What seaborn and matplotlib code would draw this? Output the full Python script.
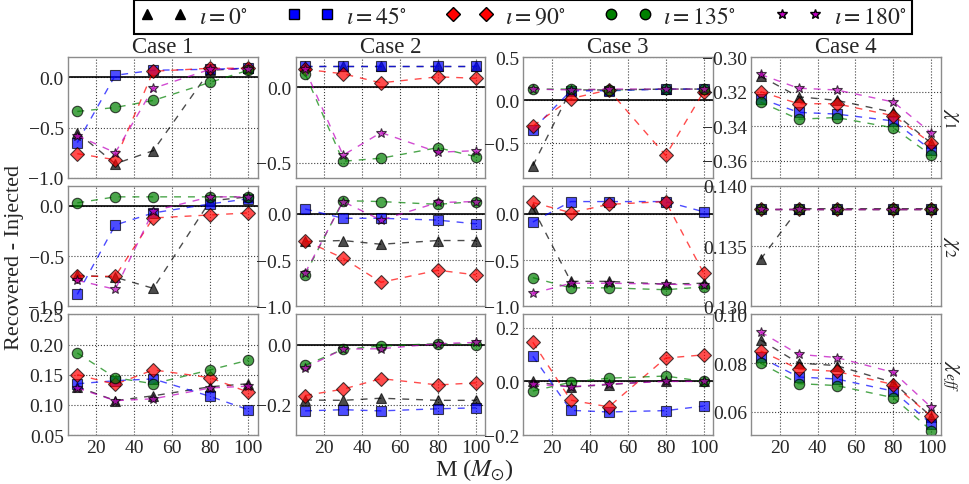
import pandas as pd
import matplotlib.pyplot as plt
import seaborn as sns
from matplotlib.lines import Line2D

# Total mass values (solar masses) and inclination angles
masses = [10, 30, 50, 80, 100]
inclinations = [0, 45, 90, 135, 180]
colors = ['k', 'b', 'r', 'g', 'm']
marker_list = ['^', 's', 'D', 'o', '*']
cases = ['Case 1', 'Case 2', 'Case 3', 'Case 4']
row_labels = [r'$\chi_1$', r'$\chi_2$', r'$\chi_{eff}$']

# Recovered - injected, one row per inclination (0, 45, 90, 135, 180)
chi1_case1 = [[-0.55, -0.86, -0.73, 0.07, 0.09],
              [-0.65, 0.02, 0.07, 0.08, 0.09],
              [-0.76, -0.82, 0.06, 0.09, 0.09],
              [-0.34, -0.30, -0.23, -0.05, 0.07],
              [-0.58, -0.75, -0.11, 0.08, 0.08]]
chi1_case2 = [[0.14, 0.14, 0.14, 0.14, 0.14],
              [0.14, 0.14, 0.14, 0.14, 0.14],
              [0.12, 0.09, 0.03, 0.07, 0.06],
              [0.09, -0.49, -0.47, -0.40, -0.46],
              [0.12, -0.45, -0.30, -0.43, -0.42]]
chi1_case3 = [[-0.76, 0.12, 0.12, 0.13, 0.13],
              [-0.34, 0.11, 0.11, 0.13, 0.13],
              [-0.30, 0.02, 0.12, -0.64, 0.10],
              [0.13, 0.13, 0.12, 0.13, 0.13],
              [0.13, 0.12, 0.13, 0.13, 0.13]]
chi1_case4 = [[-0.311, -0.323, -0.325, -0.332, -0.350],
              [-0.324, -0.332, -0.333, -0.337, -0.354],
              [-0.320, -0.327, -0.327, -0.334, -0.350],
              [-0.326, -0.336, -0.335, -0.341, -0.357],
              [-0.310, -0.318, -0.319, -0.326, -0.344]]

chi2_case1 = [[-0.69, -0.71, -0.82, 0.05, 0.09],
              [-0.88, -0.19, -0.07, 0.02, 0.07],
              [-0.70, -0.70, -0.12, -0.09, -0.07],
              [0.03, 0.09, 0.09, 0.09, 0.09],
              [-0.74, -0.83, -0.05, 0.09, 0.09]]
chi2_case2 = [[-0.30, -0.29, -0.33, -0.29, -0.29],
              [0.05, -0.05, -0.05, -0.07, -0.11],
              [-0.29, -0.48, -0.74, -0.61, -0.66],
              [-0.66, 0.14, 0.13, 0.10, 0.13],
              [-0.64, 0.13, -0.07, 0.12, 0.13]]
chi2_case3 = [[0.06, -0.73, -0.73, -0.76, -0.75],
              [-0.09, 0.13, 0.13, 0.13, 0.02],
              [0.12, 0.01, 0.10, 0.13, -0.64],
              [-0.69, -0.80, -0.80, -0.82, -0.79],
              [-0.86, -0.75, -0.75, -0.76, -0.77]]
chi2_case4 = [[0.1339, 0.1381, 0.1381, 0.1381, 0.1381],
              [0.1381, 0.1381, 0.1381, 0.1381, 0.1381],
              [0.1381, 0.1381, 0.1381, 0.1381, 0.1381],
              [0.1381, 0.1381, 0.1381, 0.1381, 0.1381],
              [0.1381, 0.1381, 0.1381, 0.1381, 0.1381]]

chieff_case1 = [[0.130, 0.107, 0.115, 0.130, 0.135],
                [0.135, 0.140, 0.143, 0.114, 0.092],
                [0.150, 0.134, 0.158, 0.145, 0.121],
                [0.186, 0.145, 0.135, 0.158, 0.174],
                [0.128, 0.107, 0.110, 0.128, 0.131]]
chieff_case2 = [[-0.184, -0.185, -0.178, -0.185, -0.185],
                [-0.220, -0.216, -0.220, -0.213, -0.210],
                [-0.169, -0.148, -0.113, -0.134, -0.127],
                [-0.069, -0.016, -0.005, 0.003, 0.0],
                [-0.077, -0.015, -0.014, 0.003, 0.007]]
chieff_case3 = [[0.0, -0.021, -0.012, 0.003, 0.0],
                [0.094, -0.108, -0.114, -0.109, -0.092],
                [0.146, -0.070, -0.095, 0.087, 0.099],
                [-0.036, -0.003, 0.012, 0.020, 0.0],
                [-0.010, -0.020, -0.010, 0.0, 0.0]]
chieff_case4 = [[0.0895, 0.0800, 0.0790, 0.0720, 0.0580],
                [0.0824, 0.0743, 0.0735, 0.0685, 0.0550],
                [0.0850, 0.0776, 0.0766, 0.0712, 0.0581],
                [0.0800, 0.0716, 0.0708, 0.0658, 0.0523],
                [0.0928, 0.0836, 0.0823, 0.0762, 0.0618]]

panels = [[chi1_case1, chi1_case2, chi1_case3, chi1_case4],
          [chi2_case1, chi2_case2, chi2_case3, chi2_case4],
          [chieff_case1, chieff_case2, chieff_case3, chieff_case4]]

# axis limits and ticks per panel
ylims = [[(-1.0, 0.2), (-0.6, 0.2), (-0.9, 0.5), (-0.37, -0.30)],
         [(-1.0, 0.2), (-1.0, 0.3), (-1.0, 0.3), (0.130, 0.140)],
         [(0.05, 0.25), (-0.3, 0.1), (-0.2, 0.25), (0.0505, 0.10)]]
yticks = [[[-1.0, -0.5, 0.0], [-0.5, 0.0], [-0.5, 0.0, 0.5], [-0.36, -0.34, -0.32, -0.30]],
          [[-1.0, -0.5, 0.0], [-1.0, -0.5, 0.0], [-1.0, -0.5, 0.0], [0.130, 0.135, 0.140]],
          [[0.05, 0.10, 0.15, 0.20, 0.25], [-0.2, 0.0], [-0.2, 0.0, 0.2], [0.06, 0.08, 0.10]]]

sns.set_style('white')
plt.rcParams['font.family'] = ['Liberation Serif', 'DejaVu Serif']
plt.rcParams['mathtext.fontset'] = 'stix'
plt.rcParams['axes.formatter.useoffset'] = False

inc_names = [r'$\iota = %d^{\circ}$' % i for i in inclinations]
palette = dict(zip(inc_names, colors))
markers = dict(zip(inc_names, marker_list))
dashes = {n: (5, 5) for n in inc_names}

fig, axes = plt.subplots(3, 4, figsize=(9.69, 4.85), dpi=100, sharex=True)
plt.subplots_adjust(left=0.070, right=0.971, top=0.880, bottom=0.101,
                    wspace=0.2, hspace=0.066)

for r in range(3):
    for c in range(4):
        ax = axes[r, c]
        rows = []
        for k, name in enumerate(inc_names):
            for m, v in zip(masses, panels[r][c][k]):
                rows.append({'M': m, 'value': v, 'incl': name})
        df = pd.DataFrame(rows)
        if c < 3:
            ax.axhline(0, color='k', lw=1.2, zorder=1)
        sns.lineplot(data=df, x='M', y='value', hue='incl', style='incl',
                     palette=palette, markers=markers, dashes=dashes,
                     hue_order=inc_names, style_order=inc_names,
                     markersize=7.5, markeredgecolor='k', markeredgewidth=0.8,
                     lw=1, alpha=0.7, errorbar=None, legend=False, ax=ax)
        ax.set_xlim(5, 105)
        ax.set_xticks([20, 40, 60, 80, 100])
        ax.set_ylim(*ylims[r][c])
        ax.set_yticks(yticks[r][c])
        ax.grid(True, linestyle=':', color='0.25', lw=0.8)
        ax.tick_params(length=0, labelsize=14, pad=3)
        ax.set_xlabel('')
        ax.set_ylabel('')
        for s in ax.spines.values():
            s.set_color('0.55')
            s.set_linewidth(1.0)
        if r == 0:
            ax.set_title(cases[c], fontsize=16.5, pad=2)
        if c == 3:
            ax.yaxis.set_label_position('right')
            ax.set_ylabel(row_labels[r], rotation=270, fontsize=16,
                          labelpad=14)

# legend with marker-only proxies
handles = [Line2D([], [], linestyle='none', marker=mk, color=col,
                  markeredgecolor='k', markersize=7.5)
           for mk, col in zip(marker_list, colors)]
leg = fig.legend(handles, inc_names, loc='upper center',
                 bbox_to_anchor=(0.54, 1.0), ncol=5, numpoints=2,
                 fontsize=17, frameon=True, fancybox=False, edgecolor='k',
                 framealpha=1, borderpad=0.25, columnspacing=1.65,
                 handletextpad=0.5, borderaxespad=0.05)
leg.get_frame().set_linewidth(1.5)

fig.text(0.49, 0.03, r'M ($M_{\odot}$)', ha='center', va='center', fontsize=17.5)
fig.text(0.015, 0.47, 'Recovered - Injected', ha='center', va='center',
         rotation=90, fontsize=16)

plt.savefig('out.png', dpi=100)
